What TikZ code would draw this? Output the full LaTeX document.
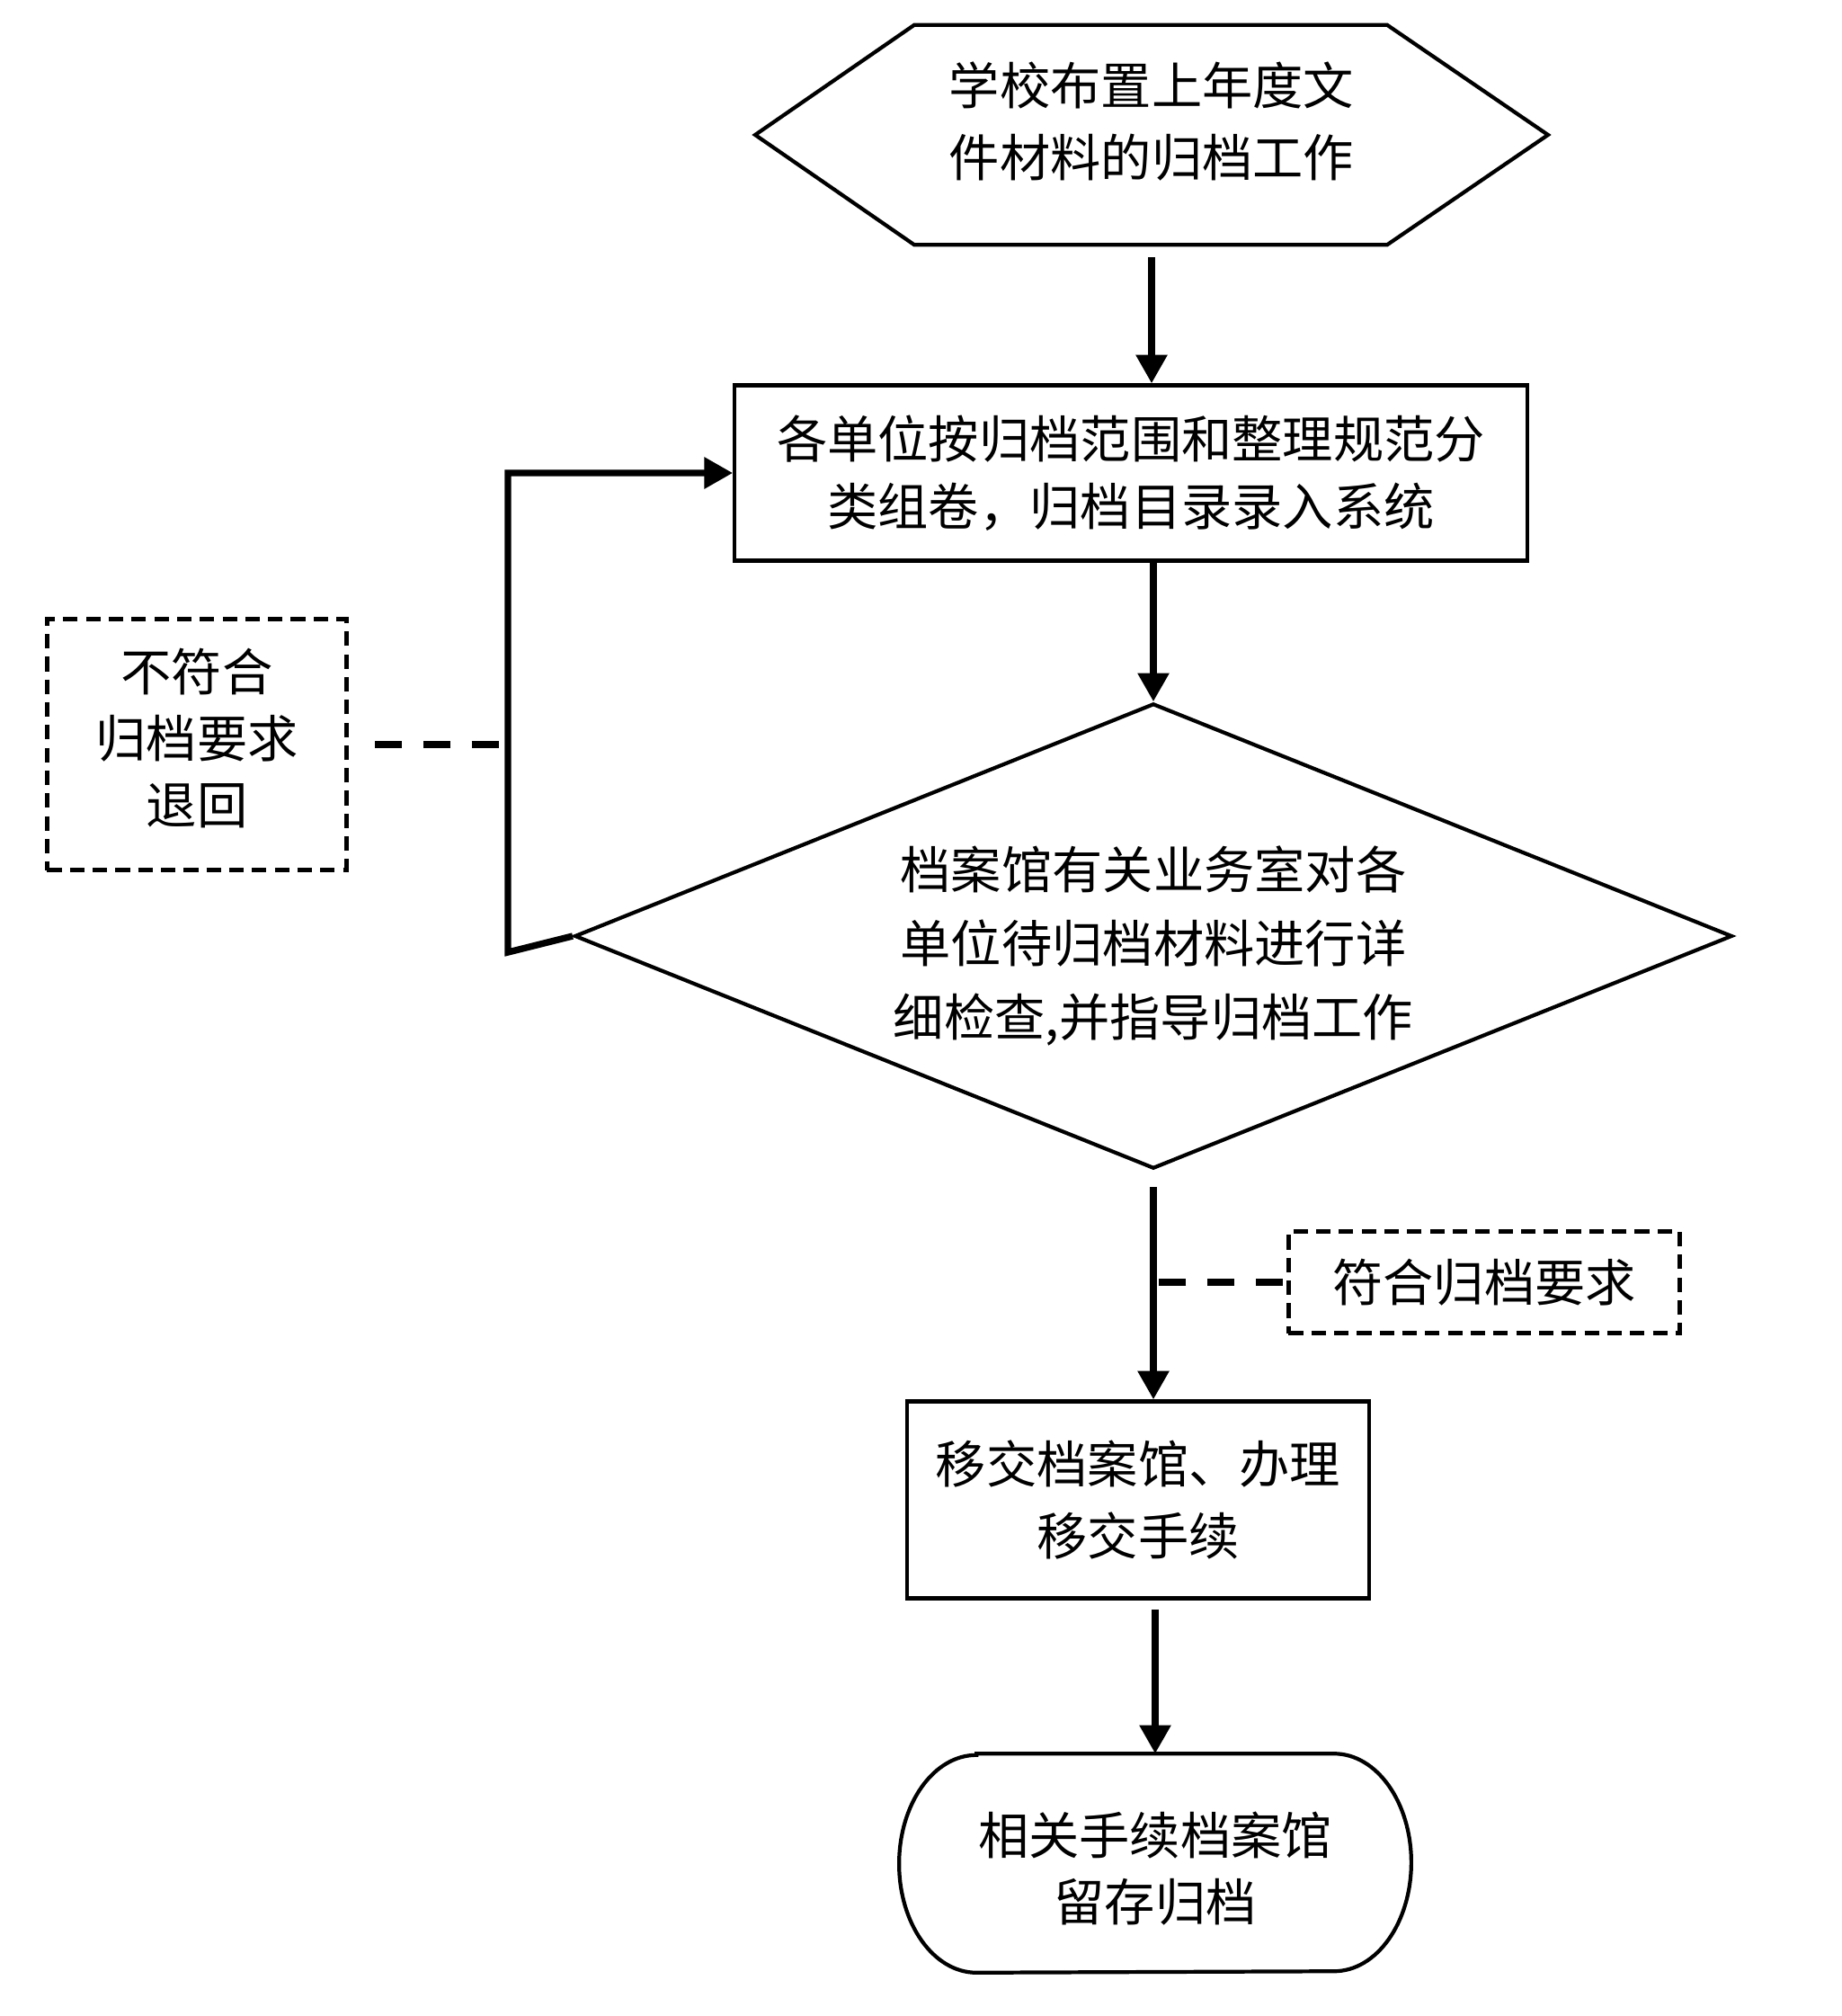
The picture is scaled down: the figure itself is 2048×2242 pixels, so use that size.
\documentclass[tikz,border=0pt]{standalone}
\usepackage{fontspec}
\setmainfont{Noto Sans CJK SC}
\usetikzlibrary{shapes.geometric,arrows.meta,calc}
\tikzset{
  txt/.style={inner sep=0pt, align=center, font=\fontsize{16}{21.5}\selectfont},
  outline/.style={line width=1.2pt, line join=miter},
  boxnode/.style={txt, draw, outline, rectangle},
  dashbox/.style={txt, draw, rectangle, line width=1.4pt, dash pattern=on 4.6pt off 2.6pt},
  arr/.style={line width=2.1pt, line join=miter, -{Triangle[length=9pt,width=9.5pt]}},
  dlink/.style={line width=2.3pt, dash pattern=on 8.5pt off 6.8pt}
}
\begin{document}
\begin{tikzpicture}[x=0.01cm,y=-0.01cm]
\useasboundingbox (0,0) rectangle (2048,2242);
\fill[white] (0,0) rectangle (2048,2242);

% hexagon start
\node[txt, minimum width=8.8cm, minimum height=2.43cm] (h) at (1281,150) {};
\node[txt, font=\fontsize{16}{23}\selectfont] (ht) at (1281,135) {学校布置上年度文\\件材料的归档工作};
\draw[outline] (h.west) -- ($(h.north west)+(177,0)$) -- ($(h.north east)+(-179,0)$) -- (h.east)
  -- ($(h.south east)+(-179,0)$) -- ($(h.south west)+(177,0)$) -- cycle;

% box 2
\node[boxnode, minimum width=8.81cm, minimum height=1.95cm] (b2) at (1258,526) {各单位按归档范围和整理规范分\\类组卷，归档目录录入系统};

% diamond
\node[diamond, draw, outline, inner sep=0pt, aspect=2.49, minimum width=12.87cm, minimum height=5.17cm] (d) at (1283,1041) {};
\node[txt, font=\fontsize{16}{23.4}\selectfont] (dt) at (1283,1052) {档案馆有关业务室对各\\单位待归档材料进行详\\细检查,并指导归档工作};

% left dashed box
\node[dashbox, minimum width=3.33cm, minimum height=2.79cm] (lb) at (219,828) {};
\node[txt, font=\fontsize{16}{21}\selectfont] (lbt) at (219,821) {不符合\\归档要求\\退回};

% right dashed box
\node[dashbox, minimum width=4.35cm, minimum height=1.13cm] (rb) at (1651,1426) {符合归档要求};

% box 4
\node[boxnode, minimum width=5.13cm, minimum height=2.19cm, font=\fontsize{16}{22.8}\selectfont] (b4) at (1266,1668) {移交档案馆、办理\\移交手续};

% terminal
\node[txt, minimum width=5.68cm, minimum height=2.42cm] (t) at (1285,2072) {};
\node[txt, font=\fontsize{16}{20.8}\selectfont] (tt) at (1285,2078) {相关手续档案馆\\留存归档};
\draw[outline] ($(t.north west)+(86,0)$) -- ($(t.north east)+(-86,0)$)
  arc[start angle=90, end angle=-90, x radius=86, y radius=-121]
  -- ($(t.south west)+(86,0)$)
  arc[start angle=270, end angle=90, x radius=86, y radius=-121] -- cycle;

% connectors
\draw[arr, shorten <=0.14cm] (h.south) -- (h.south |- b2.north);
\draw[arr] (b2.south -| d.north) -- (d.north);
\draw[arr, shorten <=0.18cm] (d.south) -- (d.south |- b4.north);
\draw[arr, shorten <=0.10cm] (b4.south -| t.north) -- (t.north);

\coordinate (lc) at (565,1059);
\draw[arr] (d.west) -- (lc) -- (lc |- b2.west) -- (b2.west);

\draw[dlink, shorten <=0.29cm, shorten >=0.07cm] (lb.east) -- (lb.east -| lc);
\draw[dlink, shorten <=0.04cm, shorten >=-0.02cm] (rb.west) -- (rb.west -| d.south);
\end{tikzpicture}
\end{document}
